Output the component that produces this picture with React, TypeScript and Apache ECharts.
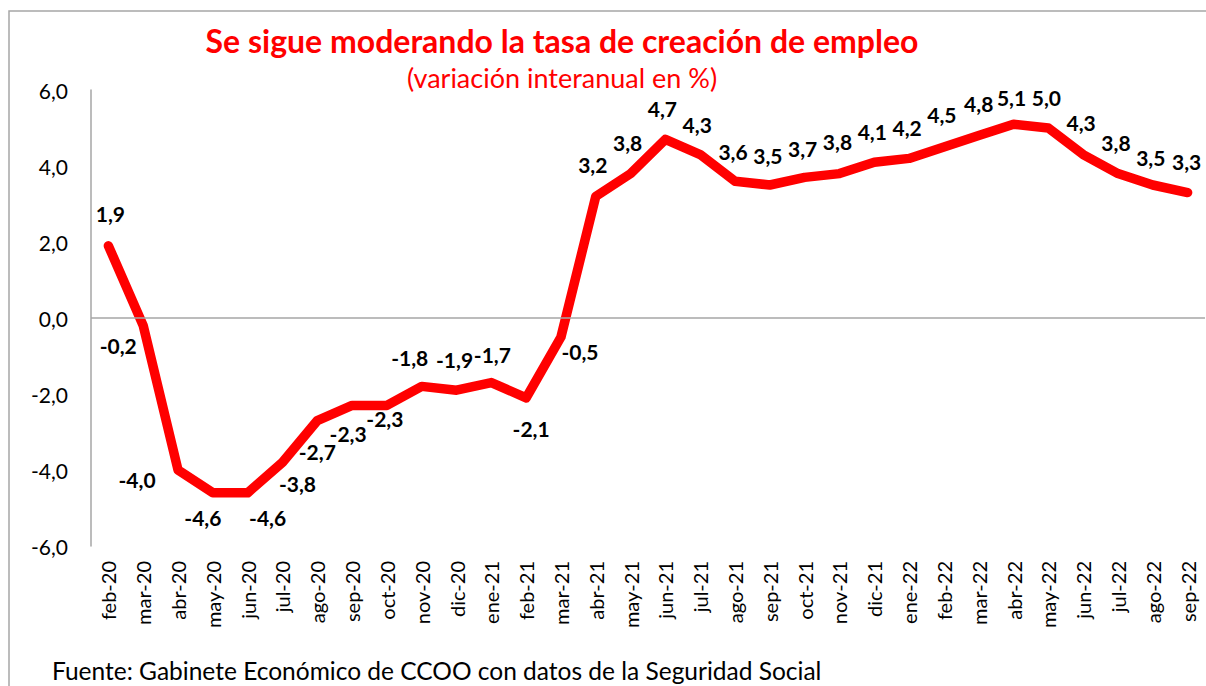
import React, { useEffect, useRef } from "react";
import * as echarts from "echarts";

const categories = [
  "feb-20", "mar-20", "abr-20", "may-20", "jun-20", "jul-20", "ago-20", "sep-20",
  "oct-20", "nov-20", "dic-20", "ene-21", "feb-21", "mar-21", "abr-21", "may-21",
  "jun-21", "jul-21", "ago-21", "sep-21", "oct-21", "nov-21", "dic-21", "ene-22",
  "feb-22", "mar-22", "abr-22", "may-22", "jun-22", "jul-22", "ago-22", "sep-22",
];

const values = [
  1.9, -0.2, -4.0, -4.6, -4.6, -3.8, -2.7, -2.3,
  -2.3, -1.8, -1.9, -1.7, -2.1, -0.5, 3.2, 3.8,
  4.7, 4.3, 3.6, 3.5, 3.7, 3.8, 4.1, 4.2,
  4.5, 4.8, 5.1, 5.0, 4.3, 3.8, 3.5, 3.3,
];

const yTicks = [-6, -4, -2, 0, 2, 4, 6];

const titleText = "Se sigue moderando la tasa de creación de empleo";
const subtitleText = "(variación interanual en %)";
const sourceText = "Fuente: Gabinete Económico de CCOO con datos de la Seguridad Social";

// label placement offsets (dx, dy) from each point, in pixels
const labelOffsets: [number, number][] = [
  [2, -32], [-25, 20], [-41, 9], [-10, 25], [20, 25], [15, 21], [0, 31], [-4, 28],
  [-2, 13], [-12, -29], [-2, -31], [1, -28], [5, 31], [19, 14], [-3, -32], [-3, -31],
  [-3, -31], [-3, -30], [-2, -30], [-2, -30], [-2, -29], [-2, -32], [-2, -31], [-2, -31],
  [-2, -33], [0, -32], [-2, -27], [-2, -31], [-2, -32], [-2, -31], [-2, -28], [-1, -31],
];

const FONT = "Lato";

const fmt = (v: number) => v.toFixed(1).replace(".", ",");

export default function App() {
  const ref = useRef<HTMLDivElement>(null);

  useEffect(() => {
    if (!ref.current) return;
    const chart = echarts.init(ref.current, undefined, { renderer: "svg" });
    chart.setOption({
      animation: false,
      backgroundColor: "#ffffff",
      textStyle: { fontFamily: FONT },
      graphic: [
        {
          type: "rect",
          shape: { x: 9, y: 11, width: 1220, height: 700 },
          style: { fill: "none", stroke: "#a6a6a6", lineWidth: 1.5 },
          silent: true,
        },
        {
          type: "text",
          x: 562,
          y: 40,
          style: {
            text: titleText,
            fill: "#ff0000",
            font: `bold 32px ${FONT}`,
            textAlign: "center",
            textVerticalAlign: "middle",
          },
        },
        {
          type: "text",
          x: 562,
          y: 77,
          style: {
            text: subtitleText,
            fill: "#ff0000",
            font: `27px ${FONT}`,
            textAlign: "center",
            textVerticalAlign: "middle",
          },
        },
        {
          type: "text",
          x: 52,
          y: 670,
          style: {
            text: sourceText,
            fill: "#000000",
            font: `24.5px ${FONT}`,
            textAlign: "left",
            textVerticalAlign: "middle",
          },
        },
      ],
      grid: { left: 91, top: 90, width: 1114, height: 456, containLabel: false },
      xAxis: {
        type: "category",
        data: categories,
        boundaryGap: true,
        axisLine: { show: false, onZero: false },
        axisTick: { show: false },
        axisLabel: {
          rotate: 90,
          interval: 0,
          margin: 15,
          color: "#000",
          fontSize: 20,
          fontFamily: FONT,
        },
        splitLine: { show: false },
      },
      yAxis: {
        type: "value",
        min: yTicks[0],
        max: yTicks[yTicks.length - 1],
        interval: 2,
        axisLine: { show: true, lineStyle: { color: "#a6a6a6", width: 1.5 } },
        axisTick: { show: false },
        splitLine: { show: false },
        axisLabel: {
          margin: 23,
          color: "#000",
          fontSize: 21,
          fontFamily: FONT,
          formatter: (v: number) => fmt(v),
        },
      },
      series: [
        {
          type: "line",
          data: values.map((v, i) => ({
            value: v,
            label: {
              show: true,
              position: "inside",
              offset: labelOffsets[i],
            },
          })),
          smooth: false,
          symbol: "circle",
          symbolSize: 1,
          showSymbol: true,
          itemStyle: { color: "#ff0000" },
          lineStyle: { color: "#ff0000", width: 9.5, cap: "round", join: "round" },
          label: {
            show: true,
            color: "#000",
            fontWeight: "bold",
            fontSize: 21,
            fontFamily: FONT,
            formatter: (p: any) => fmt(p.value),
          },
          markLine: {
            silent: true,
            symbol: "none",
            label: { show: false },
            lineStyle: { color: "#a6a6a6", width: 1.5, type: "solid" },
            data: [{ yAxis: 0 }],
          },
          z: 3,
        },
      ],
    });
    return () => chart.dispose();
  }, []);

  return (
    <div
      ref={ref}
      style={{ position: "fixed", left: 0, top: 0, width: 1206, height: 686 }}
    />
  );
}
